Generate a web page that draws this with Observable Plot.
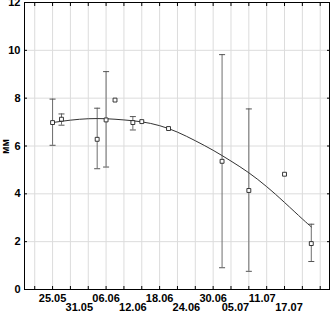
<!DOCTYPE html>
<html>
<head>
<meta charset="utf-8">
<script src="https://cdn.jsdelivr.net/npm/d3@7"></script>
<script src="https://cdn.jsdelivr.net/npm/@observablehq/plot@0.6"></script>
<style>
  html, body { margin: 0; padding: 0; background: #fff; }
  #chart svg { display: block; }
</style>
</head>
<body>
<div id="chart"></div>
<script>
// ---- data ----
const pointDates  = ["25.05","27.05","04.06","06.06","08.06","12.06","14.06","20.06","02.07","08.07","16.07","22.07"];
const pointValues = [6.98, 7.12, 6.28, 7.09, 7.92, 6.98, 7.02, 6.73, 5.36, 4.14, 4.82, 1.92];
const errLow      = [6.03, 6.87, 5.05, 5.12, null, 6.67, null, null, 0.91, 0.76, null, 1.17];
const errHigh     = [7.96, 7.34, 7.58, 9.11, null, 7.23, null, null, 9.82, 7.55, null, 2.73];

const curveDates  = ["25.05","29.05","02.06","06.06","10.06","14.06","18.06","22.06","26.06","30.06","04.07","08.07","12.07","16.07","20.07","22.07"];
const curveValues = [6.98, 7.08, 7.14, 7.14, 7.09, 7.01, 6.85, 6.58, 6.22, 5.82, 5.37, 4.88, 4.30, 3.64, 2.95, 2.62];

const tickLabelsUpper = ["25.05","06.06","18.06","30.06","11.07"];
const tickLabelsLower = ["31.05","12.06","24.06","05.07","17.07"];
const gridDates = ["21.05","25.05","29.05","02.06","06.06","10.06","14.06","18.06","22.06","26.06","30.06","04.07","08.07","12.07","16.07","20.07","24.07"];
const yTicks = [0, 2, 4, 6, 8, 10, 12];
const yLabel = "мм";
const domainStart = "18.05";
const domainEnd = "26.07";

// ---- helpers ----
const YEAR = 2010;
const parse = s => { const [d, m] = s.split(".").map(Number); return new Date(Date.UTC(YEAR, m - 1, d)); };
const fmt = d3.utcFormat("%d.%m");

const points = pointDates.map((d, i) => ({date: parse(d), v: pointValues[i], lo: errLow[i], hi: errHigh[i]}));
const bars = points.filter(p => p.lo != null);
const curve = curveDates.map((d, i) => ({date: parse(d), v: curveValues[i]}));

const hline = { draw(ctx, size) { const w = Math.sqrt(size) / 2; ctx.moveTo(-w, 0); ctx.lineTo(w, 0); } };

const x0 = parse(domainStart); x0.setUTCHours(17);
const x1 = parse(domainEnd);   x1.setUTCHours(2);

const font = "'Liberation Sans', Arial, sans-serif";

const chart = Plot.plot({
  width: 330,
  height: 313,
  marginLeft: 24,
  marginRight: 1,
  marginTop: 2,
  marginBottom: 24,
  style: {fontFamily: font, fontSize: "11px", fontWeight: "bold", color: "#000", background: "#fff"},
  x: {type: "utc", domain: [x0, x1]},
  y: {domain: [0, 12]},
  marks: [
    Plot.ruleX(gridDates.map(parse), {stroke: "#dcdcdc", strokeWidth: 1, strokeOpacity: 1}),
    Plot.ruleY(yTicks.slice(1, -1), {stroke: "#dcdcdc", strokeWidth: 1, strokeOpacity: 1}),
    // inward ticks on all four sides
    Plot.axisX(gridDates.map(parse), {anchor: "top", tickSize: -3, tickFormat: () => "", label: null}),
    Plot.axisX(gridDates.map(parse), {anchor: "bottom", tickSize: -3, tickFormat: () => "", label: null}),
    Plot.axisX(tickLabelsUpper.map(parse), {anchor: "bottom", tickFormat: fmt, tickSize: 0, tickPadding: 5, fontWeight: "bold", label: null}),
    Plot.axisX(tickLabelsLower.map(parse), {anchor: "bottom", tickFormat: fmt, tickSize: 0, tickPadding: 14, fontWeight: "bold", label: null}),
    Plot.axisY(yTicks, {tickSize: 0, tickPadding: 4, label: null, fontWeight: "bold"}),
    Plot.axisY(yTicks, {anchor: "right", tickSize: -3, tickFormat: () => "", label: null}),
    Plot.axisY(yTicks, {anchor: "left", tickSize: -3, tickFormat: () => "", label: null}),
    Plot.frame({stroke: "#000", strokeWidth: 1}),
    // error bars
    Plot.ruleX(bars, {x: "date", y1: "lo", y2: "hi", stroke: "#6e6e6e", strokeWidth: 1}),
    Plot.dot(bars, {x: "date", y: "hi", symbol: hline, r: 3.4, stroke: "#555", strokeWidth: 1}),
    Plot.dot(bars, {x: "date", y: "lo", symbol: hline, r: 3.4, stroke: "#555", strokeWidth: 1}),
    // fitted curve
    Plot.line(curve, {x: "date", y: "v", curve: "natural", stroke: "#333", strokeWidth: 1}),
    // points
    Plot.dot(points, {x: "date", y: "v", symbol: "square", r: 2.2, stroke: "#222", fill: "#fff", strokeWidth: 0.9}),
    Plot.text([yLabel], {frameAnchor: "left", dx: -19, dy: 8, rotate: -90, fontSize: 10, fontWeight: "bold"})
  ]
});

document.getElementById("chart").appendChild(chart);
</script>
</body>
</html>
